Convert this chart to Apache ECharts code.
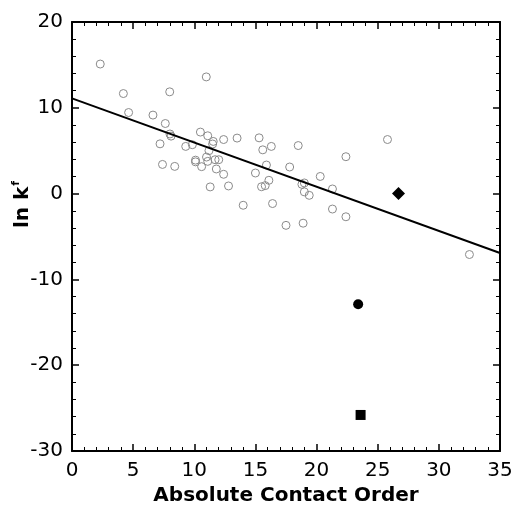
<!DOCTYPE html>
<html>
<head>
<meta charset="utf-8">
<script src="https://cdn.jsdelivr.net/npm/echarts@6/dist/echarts.min.js"></script>
<style>html,body{margin:0;padding:0;background:#fff;}#c{width:515px;height:506px;}</style>
</head>
<body>
<div id="c"></div>
<script>
// Open circles: absolute contact order vs ln kf
const aco = [2.31, 10.98, 4.2, 7.99, 4.63, 6.62, 7.63, 8.01, 8.1, 10.5, 11.1, 11.55, 11.5, 12.4, 13.5, 15.3,
  7.2, 9.3, 9.84, 11.2, 11.0, 10.1, 10.1, 10.6, 11.1, 11.7, 12.0, 11.8, 12.4, 7.4, 8.4, 11.3, 12.8, 14.0, 15.0,
  15.6, 16.3, 18.5, 25.8, 22.4, 15.9, 17.8, 20.3, 16.1, 15.5, 15.8, 19.0, 18.8, 19.0, 19.4, 21.3, 16.4, 21.3,
  22.4, 17.5, 18.9, 32.5];
const lnkf = [15.1, 13.6, 11.66, 11.86, 9.45, 9.15, 8.17, 6.95, 6.7, 7.17, 6.74, 6.08, 5.78, 6.3, 6.47, 6.5,
  5.8, 5.5, 5.7, 5.0, 4.26, 3.9, 3.7, 3.14, 3.76, 3.95, 3.95, 2.87, 2.25, 3.4, 3.17, 0.78, 0.89, -1.36, 2.4,
  5.1, 5.5, 5.6, 6.3, 4.3, 3.33, 3.1, 2.0, 1.55, 0.8, 0.93, 1.24, 1.08, 0.2, -0.2, 0.54, -1.16, -1.8,
  -2.7, -3.7, -3.45, -7.1];
// Special points
const diamondPt = [26.7, 0.0];
const circlePt = [23.4, -12.9];
const squarePt = [23.6, -25.8];
// Linear fit
const fitIntercept = 11.1;
const fitSlope = -0.515;
const fitX = [0, 35];
const xTicks = [0, 5, 10, 15, 20, 25, 30, 35];
const yTicks = [-30, -20, -10, 0, 10, 20];

const fitData = fitX.map(x => [x, fitIntercept + fitSlope * x]);
const scatterData = aco.map((x, i) => [x, lnkf[i]]);

const chart = echarts.init(document.getElementById('c'), null, {renderer: 'canvas'});
const labelFont = {fontFamily: 'DejaVu Sans', fontSize: 20, color: '#000'};
const axisLine = {show: true, onZero: false, lineStyle: {color: '#000', width: 2}};
const tick = {show: true, inside: true, length: 7, lineStyle: {color: '#000', width: 1.5}};
const minor = {show: true, splitNumber: 5, length: 4, lineStyle: {color: '#000', width: 1}};
chart.setOption({
  animation: false,
  grid: {left: 72, right: 15, top: 22, bottom: 55, containLabel: false, outerBoundsMode: 'none'},
  xAxis: [{
    type: 'value', min: xTicks[0], max: xTicks[xTicks.length - 1], interval: 5,
    axisLine: axisLine, axisTick: tick, minorTick: minor,
    splitLine: {show: false},
    axisLabel: Object.assign({margin: 10}, labelFont),
    name: 'Absolute Contact Order', nameLocation: 'middle', nameGap: 35, nameMoveOverlap: false,
    nameTextStyle: {fontFamily: 'DejaVu Sans', fontWeight: 'bold', fontSize: 20, color: '#000', verticalAlign: 'top'}
  }, {
    type: 'value', position: 'top', min: 0, max: 35, interval: 5,
    axisLine: axisLine, axisTick: tick, minorTick: minor,
    splitLine: {show: false}, axisLabel: {show: false}
  }],
  yAxis: [{
    type: 'value', min: yTicks[0], max: yTicks[yTicks.length - 1], interval: 10,
    axisLine: axisLine, axisTick: tick, minorTick: minor,
    splitLine: {show: false},
    axisLabel: Object.assign({margin: 9}, labelFont),
    name: '{m|ln k}{s|f}', nameLocation: 'middle', nameGap: 37, nameRotate: 90, nameMoveOverlap: false,
    nameTextStyle: {
      padding: [0, 0, 0, 64],
      rich: {
        m: {fontFamily: 'DejaVu Sans', fontWeight: 'bold', fontSize: 20, lineHeight: 24, color: '#000'},
        s: {fontFamily: 'DejaVu Sans', fontWeight: 'bold', fontSize: 11, lineHeight: 24, color: '#000', verticalAlign: 'top', padding: [0, 0, 0, 1]}
      }
    }
  }, {
    type: 'value', position: 'right', min: -30, max: 20, interval: 10,
    axisLine: axisLine, axisTick: tick, minorTick: minor,
    splitLine: {show: false}, axisLabel: {show: false}
  }],
  series: [{
    type: 'line', data: fitData, symbol: 'none', xAxisIndex: 0, yAxisIndex: 0,
    lineStyle: {color: '#000', width: 2}, z: 3
  }, {
    type: 'scatter', data: scatterData, symbol: 'circle', symbolSize: 8,
    itemStyle: {color: 'rgba(255,255,255,0)', borderColor: '#8a8a8a', borderWidth: 1, opacity: 1}, z: 2
  }, {
    type: 'scatter', data: [diamondPt], symbol: 'diamond', symbolSize: 13,
    itemStyle: {color: '#000', opacity: 1}, z: 4
  }, {
    type: 'scatter', data: [circlePt], symbol: 'circle', symbolSize: 10,
    itemStyle: {color: '#000', opacity: 1}, z: 4
  }, {
    type: 'scatter', data: [squarePt], symbol: 'rect', symbolSize: 10,
    itemStyle: {color: '#000', opacity: 1}, z: 4
  }]
});
</script>
</body>
</html>
